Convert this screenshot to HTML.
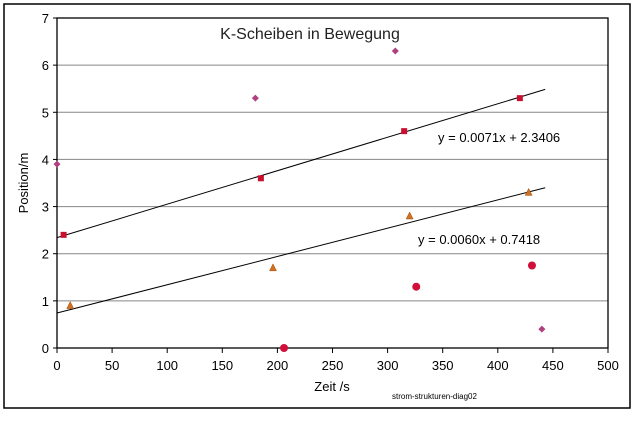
<!DOCTYPE html>
<html><head><meta charset="utf-8"><style>
body{margin:0;background:#fff;font-family:"Liberation Sans","DejaVu Sans",sans-serif}
</style></head><body>
<svg width="634" height="420" xmlns="http://www.w3.org/2000/svg">
<rect x="4" y="4" width="626" height="404" fill="#fff" stroke="#000" stroke-width="1.5"/>
<g id="grid"></g>
<g id="axes"></g>
<g id="marks"></g>
<text x="310" y="39" font-size="16" text-anchor="middle" fill="#222">K-Scheiben in Bewegung</text>
<text x="332" y="391" font-size="13" text-anchor="middle" fill="#000">Zeit /s</text>
<text x="28" y="183" font-size="13" text-anchor="middle" fill="#000" transform="rotate(-90 28 183)">Position/m</text>
<text x="438" y="142" font-size="13" fill="#000">y = 0.0071x + 2.3406</text>
<text x="418" y="244" font-size="13" fill="#000">y = 0.0060x + 0.7418</text>
<text x="392" y="399" font-size="8" fill="#000">strom-strukturen-diag02</text>
</svg>
<script>
const xTicks=[0,50,100,150,200,250,300,350,400,450,500];
const yTicks=[0,1,2,3,4,5,6,7];
const diamondX=[0,180,307,440];
const diamondY=[3.9,5.3,6.3,0.4];
const squareX=[6,185,315,420];
const squareY=[2.4,3.6,4.6,5.3];
const triangleX=[12,196,320,428];
const triangleY=[0.9,1.7,2.8,3.3];
const circleX=[206,326,431];
const circleY=[0,1.3,1.75];
const trendSlopes=[0.0071,0.0060];
const trendIntercepts=[2.3406,0.7418];
const trendRange=[0,443];
const L=57,R=608,T=18,B=348;
const sx=v=>L+v/500*(R-L), sy=v=>B-v/7*(B-T);
const NS="http://www.w3.org/2000/svg";
function mk(parent,tag,attrs){const e=document.createElementNS(NS,tag);for(const k in attrs)e.setAttribute(k,attrs[k]);document.getElementById(parent).appendChild(e);return e;}
yTicks.forEach(v=>{
 if(v>0){const g=mk('grid','line',{x1:L,x2:R,y1:sy(v),y2:sy(v),stroke:'#868686','stroke-width':1});
 
 }
 const t=mk('axes','text',{x:L-8,y:sy(v)+5,'font-size':13,'text-anchor':'end'});t.textContent=v;
 
 
 mk('axes','line',{x1:L-4,x2:L,y1:sy(v),y2:sy(v),stroke:'#000'});
});
xTicks.forEach(v=>{
 const t=mk('axes','text',{x:sx(v),y:B+22,'font-size':13,'text-anchor':'middle'});t.textContent=v;
 
 
 mk('axes','line',{x1:sx(v),x2:sx(v),y1:B,y2:B+5,stroke:'#000'});
});
mk('axes','rect',{x:L,y:T,width:R-L,height:B-T,fill:'none',stroke:'#000','stroke-width':1.3});
trendSlopes.forEach((m,i)=>{
 const l=mk('marks','line',{x1:sx(trendRange[0]),y1:sy(trendIntercepts[i]+m*trendRange[0]),x2:sx(trendRange[1]),y2:sy(trendIntercepts[i]+m*trendRange[1]),stroke:'#000','stroke-width':1});
 
 
});
diamondX.forEach((x,i)=>{const cx=sx(x),cy=sy(diamondY[i]);
 const p=mk('marks','polygon',{points:`${cx},${cy-3.5} ${cx+3.5},${cy} ${cx},${cy+3.5} ${cx-3.5},${cy}`,fill:'#b04080'});
 
 });
squareX.forEach((x,i)=>{
 const p=mk('marks','rect',{x:sx(x)-3,y:sy(squareY[i])-3,width:6,height:6,fill:'#c8102e'});
 
 });
triangleX.forEach((x,i)=>{const cx=sx(x),cy=sy(triangleY[i]);
 const p=mk('marks','polygon',{points:`${cx},${cy-4} ${cx+3.5},${cy+3} ${cx-3.5},${cy+3}`,fill:'#d07020',stroke:'#a05010','stroke-width':0.5});
 
 });
circleX.forEach((x,i)=>{
 const p=mk('marks','circle',{cx:sx(x),cy:sy(circleY[i]),r:4,fill:'#d0103a'});
 
 });
</script>
</body></html>
